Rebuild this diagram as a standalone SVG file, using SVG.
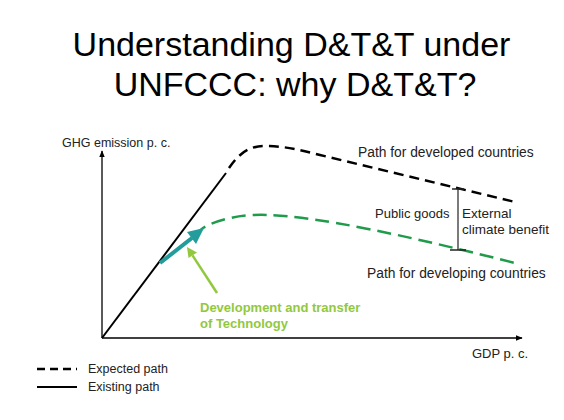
<svg xmlns="http://www.w3.org/2000/svg" width="564" height="420" viewBox="0 0 564 420">
<style>
.title{font-family:"Liberation Sans",Arial,sans-serif;font-size:34px;fill:#000;text-anchor:middle}
.lbl{font-family:"Liberation Sans",Arial,sans-serif;font-size:12.5px;fill:#222}
.big{font-size:13.8px}
.mid{font-size:13.5px}
.bold{font-family:"Liberation Sans",Arial,sans-serif;font-size:13px;font-weight:bold;fill:#92c83e}
.axis{stroke:#000;stroke-width:1.3;fill:none}
.dev{stroke:#000;stroke-width:2.5;fill:none;stroke-dasharray:10 6}
.dvg{stroke:#1f9b4b;stroke-width:2.5;fill:none;stroke-dasharray:14 7}
</style>
<defs>
<marker id="ah" viewBox="0 0 10 10" refX="9" refY="5" markerWidth="7" markerHeight="7" markerUnits="userSpaceOnUse" orient="auto">
<path d="M0,1 L10,5 L0,9 Z" fill="#000"/>
</marker>
</defs>
<rect width="564" height="420" fill="#fff"/>
<g id="title">
<text class="title" x="291.5" y="56">Understanding D&amp;T&amp;T under</text>
<text class="title" x="295" y="96">UNFCCC: why D&amp;T&amp;T?</text>
</g>
<g id="connectors">
<line class="axis" x1="102" y1="338" x2="102" y2="151" marker-end="url(#ah)"/>
<line class="axis" x1="102" y1="338" x2="522" y2="338" marker-end="url(#ah)"/>
<line x1="102" y1="338" x2="226" y2="173" stroke="#000" stroke-width="2"/>
<path class="dev" d="M229,168 C240,152 250,146 265,146 C285,146 300,150 320,155 L515,202"/>
<path class="dvg" d="M162,262 L203,228 C220,218 245,214 268,215 C320,217 400,234 515,263"/>
<line x1="160" y1="263" x2="192" y2="238" stroke="#239c9c" stroke-width="4"/>
<polygon points="204,228 196,244 187,232" fill="#239c9c"/>
<line x1="217" y1="293" x2="192.5" y2="255.4" stroke="#92c83e" stroke-width="2.5"/>
<polygon points="187,247 197,252.5 188.5,258" fill="#92c83e"/>
<line x1="458" y1="189" x2="458" y2="250" stroke="#222" stroke-width="1.2"/>
<line x1="452" y1="189" x2="464" y2="189" stroke="#222" stroke-width="1.5"/>
<line x1="450" y1="250" x2="466" y2="250" stroke="#222" stroke-width="1.5"/>
</g>
<g id="axis-labels">
<text class="lbl" x="62" y="147">GHG emission p. c.</text>
<text class="lbl" x="472" y="358" style="font-size:13px">GDP p. c.</text>
</g>
<g id="developed">
<text class="lbl big" x="358" y="157">Path for developed countries</text>
</g>
<g id="developing">
<text class="lbl big" x="367" y="278">Path for developing countries</text>
</g>
<g id="gap">
<text class="lbl" x="375" y="218" style="font-size:13px">Public goods</text>
<text class="lbl mid" x="462" y="218">External</text>
<text class="lbl mid" x="462" y="234">climate benefit</text>
</g>
<g id="dtt">
<text class="bold" x="200" y="312">Development and transfer</text>
<text class="bold" x="200" y="328">of Technology</text>
</g>
<g id="legend">
<line x1="37" y1="369" x2="77" y2="369" stroke="#000" stroke-width="2.5" stroke-dasharray="8 5"/>
<text class="lbl" x="88" y="373">Expected path</text>
<line x1="37" y1="387" x2="77" y2="387" stroke="#000" stroke-width="2"/>
<text class="lbl" x="88" y="391">Existing path</text>
</g>
</svg>
